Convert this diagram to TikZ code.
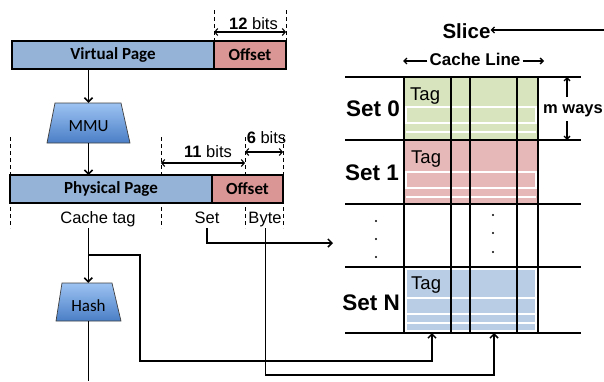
\documentclass[tikz,border=0pt]{standalone}
\usepackage{fontspec}
\setmainfont{Liberation Sans}
\newfontfamily\calfont{Carlito}
\usetikzlibrary{arrows.meta}
\definecolor{barblue}{HTML}{95B3D7}
\definecolor{barpink}{HTML}{D99694}
\definecolor{setgreen}{HTML}{D7E4BD}
\definecolor{setpink}{HTML}{E6B9B8}
\definecolor{setblue}{HTML}{B9CDE5}
\definecolor{trtop}{HTML}{9DC3F2}
\definecolor{trbot}{HTML}{4A7EC6}
\begin{document}
\begin{tikzpicture}[x=1pt,y=-1pt,
  barbox/.style={draw=black, line width=1.4pt, inner sep=0pt, outer sep=0pt, minimum height=28pt,
     font=\calfont\bfseries\fontsize{17}{19}\selectfont},
  dimline/.style={line width=1.1pt, {Straight Barb[length=3pt,width=7pt]}-{Straight Barb[length=3pt,width=7pt]}},
  dashv/.style={line width=0.9pt, dash pattern=on 4pt off 3pt},
  conn/.style={line width=1.5pt},
  arr/.style={line width=1.5pt, -{Straight Barb[length=4pt,width=8pt]}},
  small/.style={font=\fontsize{16.5}{18}\selectfont, inner sep=0pt},
  trap/.style={draw=black!75, line width=0.7pt, top color=trtop, bottom color=trbot},
  trlab/.style={font=\calfont\fontsize{17}{19}\selectfont, inner sep=0pt},
  setlab/.style={font=\bfseries\fontsize{22.5}{24}\selectfont, inner sep=0pt},
  taglab/.style={font=\fontsize{18.5}{20}\selectfont, inner sep=0pt, anchor=base west},
  grid/.style={line width=1.7pt},
  wline/.style={draw=white, line width=1.1pt},
  dotm/.style={circle, fill=black, inner sep=0pt, minimum size=2.2pt}
]
\useasboundingbox (0,0) rectangle (604,381);

% ---------- Virtual address ----------
\draw[dashv] (214,10) -- (214,41);
\draw[dashv] (286,10) -- (286,41);
\node[barbox, fill=barblue, minimum width=202pt] (vp) at (113,55) {Virtual Page};
\node[barbox, fill=barpink, minimum width=72pt] (voff) at (250,55) {Offset};
\coordinate (d12a) at (214,32);
\coordinate (d12b) at (286,32);
\draw[dimline] (d12a) -- (d12b);
\node[small, anchor=base] (b12) at (253.5,29) {\textbf{12} bits};

% ---------- MMU ----------
\path[trap] (55,103) -- (121,103) -- (130,143) -- (47,143) -- cycle;
\node[inner sep=0pt, minimum width=66pt, minimum height=40pt] (mmu) at (88.5,123) {};
\node[trlab] (mmutxt) at (88.5,126.5) {MMU};

% ---------- Physical address ----------
\draw[dashv] (10,137) -- (10,228);
\draw[dashv] (161,137) -- (161,228);
\draw[dashv] (245,137) -- (245,228);
\draw[dashv] (283,137) -- (283,228);
\node[barbox, fill=barblue, minimum width=202pt] (pp) at (111,189) {Physical Page};
\node[barbox, fill=barpink, minimum width=71pt] (poff) at (247.5,189) {Offset};
\coordinate (d11a) at (161,163);
\coordinate (d11b) at (245,163);
\draw[dimline] (d11a) -- (d11b);
\coordinate (d6a) at (245,152);
\coordinate (d6b) at (283,152);
\draw[dimline] (d6a) -- (d6b);
\node[small, anchor=base] (b11) at (208,157.5) {\textbf{11} bits};
\node[small, anchor=base] (b6) at (266.5,143) {\textbf{6} bits};

\node[small, anchor=base] (ctag) at (98,223) {Cache tag};
\node[small, anchor=base] (setf) at (207,223) {Set};
\node[small, anchor=base] (bytef) at (265,223) {Byte};

\draw[arr] (mmu.north |- vp.south) -- (mmu.north);
\draw[arr] (mmu.south) -- (mmu.south |- pp.north);

% ---------- Hash ----------
\path[trap] (62,283) -- (112,283) -- (121,321) -- (56,321) -- cycle;
\node[inner sep=0pt, minimum width=50pt, minimum height=38pt] (hash) at (88.3,302) {};
\node[trlab] (hashtxt) at (88.5,306) {Hash};
\coordinate (ctagout) at (88.3,228);
\coordinate (bottom) at (88.3,381);
\draw[arr] (ctagout) -- (hash.north);
\draw[conn] (hash.south) -- (bottom);

% ---------- Cache sets ----------
\fill[setgreen] (404,77) rectangle (538,140);
\fill[setpink] (404,140) rectangle (538,204);
\fill[setblue] (404,267) rectangle (538,333);
\foreach \a/\b/\c in {107/123/132, 172/188/197, 298/314/323}{
  \draw[wline] (406,\a) rectangle (536,\b);
  \draw[wline] (406,\c) -- (536,\c);
}
\draw[wline] (406,269) rectangle (536,331);

\foreach \y in {77,140,204,267,333}{
  \draw[grid] (345,\y) -- (581,\y);
}
\foreach \x in {404,451,470,517,538}{
  \draw[grid] (\x,77) -- (\x,334);
}

\node[taglab] (tag0) at (410,100) {Tag};
\node[taglab] (tag1) at (411,163) {Tag};
\node[taglab] (tagN) at (411,289) {Tag};

\node[setlab, anchor=base east] (s0) at (400,116.5) {Set 0};
\node[setlab, anchor=base east] (s1) at (399,180) {Set 1};
\node[setlab, anchor=base east] (sN) at (400,310) {Set N};

\node[dotm] (dl1) at (376,221) {};
\node[dotm] (dl2) at (376,239) {};
\node[dotm] (dl3) at (376,257) {};
\node[dotm] (dm1) at (493,215) {};
\node[dotm] (dm2) at (493,233) {};
\node[dotm] (dm3) at (493,252) {};

% Cache line label
\node[font=\bfseries\fontsize{17}{18}\selectfont, inner sep=0pt, anchor=base] (cl) at (475,65.5) {Cache Line};
\coordinate (clL) at (403,61);
\coordinate (clR) at (544,61);
\draw[line width=1.3pt, -{Straight Barb[length=3pt,width=6pt]}] (cl.west |- clL) ++(-2,0) -- (clL);
\draw[line width=1.3pt, -{Straight Barb[length=3pt,width=6pt]}] (cl.east |- clR) ++(2,0) -- (clR);

% m ways
\node[font=\bfseries\fontsize{16.5}{18}\selectfont, inner sep=0pt, anchor=base west] (mw) at (543,113) {m ways};
\coordinate (mwT) at (567,77);
\coordinate (mwB) at (567,140);
\draw[line width=1.3pt, -{Straight Barb[length=3pt,width=6pt]}] (567,97) -- (mwT);
\draw[line width=1.3pt, -{Straight Barb[length=3pt,width=6pt]}] (567,121) -- (mwB);

% Slice
\node[font=\bfseries\fontsize{20.5}{22}\selectfont, inner sep=0pt, anchor=base] (slice) at (466.5,38) {Slice};
\coordinate (sliceR) at (604,30);
\draw[line width=1.3pt, -{Straight Barb[length=3pt,width=6pt]}] (sliceR) -- (slice.east |- sliceR);

% ---------- connectors to cache ----------
\coordinate (setout) at (207,228);
\coordinate (setin) at (333,243);
\draw[arr] (setout) |- (setin);

\coordinate (br) at (88.3,255);
\coordinate (tagin) at (432,333);
\draw[arr] (br) -- (140,255) -- (140,361) -| (tagin);

\coordinate (byteout) at (265.5,228);
\coordinate (bytein) at (494,333);
\draw[arr] (byteout) -- (265.5,375) -| (bytein);
\end{tikzpicture}
\end{document}
